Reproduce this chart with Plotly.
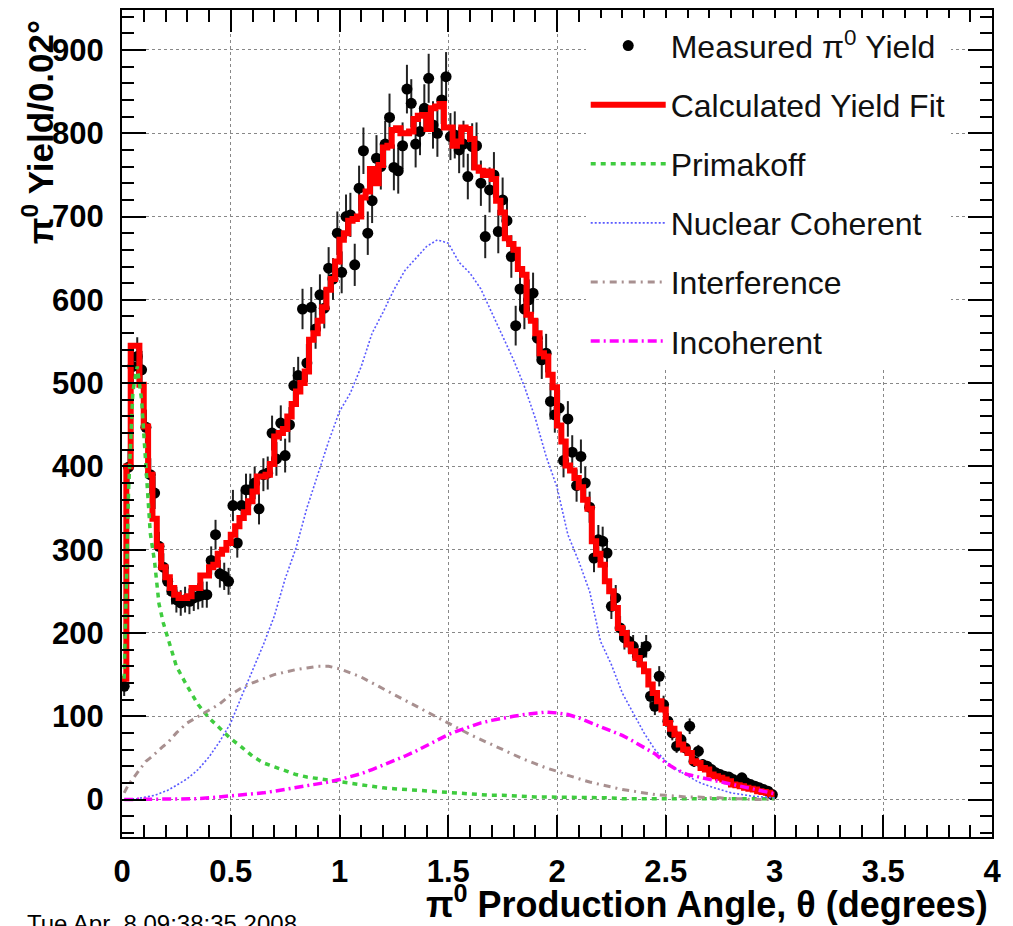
import numpy as np
import plotly.graph_objects as go

# ---- data -------------------------------------------------------------
BIN_WIDTH = 0.02
N_BINS = 150
theta_centers = np.round(0.01 + BIN_WIDTH * np.arange(N_BINS), 3)
theta_edges = np.round(BIN_WIDTH * np.arange(N_BINS + 1), 3)

measured_yield = [
    136, 399, 520, 532, 516, 447, 390, 368, 304, 279,
    262, 250, 240, 236, 240, 238, 242, 244, 246, 246,
    287, 318, 271, 268, 262, 353, 308, 353, 372, 372,
    380, 349, 390, 392, 440, 409, 452, 413, 450, 497,
    509, 589, 524, 591, 565, 606, 590, 638, 625, 680,
    633, 700, 702, 642, 734, 779, 680, 719, 770, 760,
    787, 819, 759, 755, 785, 853, 836, 787, 802, 830,
    866, 810, 800, 840, 868, 796, 798, 780, 787, 748,
    784, 785, 740, 676, 732, 750, 682, 720, 695, 652,
    569, 613, 589, 600, 608, 554, 528, 536, 478, 462,
    470, 407, 457, 417, 377, 412, 380, 351, 290, 312,
    310, 296, 232, 242, 206, 194, 190, 184, 172, 176,
    184, 124, 112, 148, 114, 94, 80, 64, 72, 62,
    88, 46, 58, 42, 40, 36, 32, 30, 28, 27,
    24, 22, 26, 20, 18, 16, 14, 12, 10, 6,
]

fit_yield = [
    145, 400, 545, 545, 498, 448, 390, 337, 304, 279,
    267, 254, 246, 242, 242, 244, 254, 254, 269, 269,
    279, 282, 295, 300, 308, 318, 328, 338, 345, 358,
    370, 388, 388, 390, 403, 436, 440, 445, 460, 475,
    490, 500, 514, 552, 560, 575, 591, 612, 625, 646,
    672, 680, 695, 697, 700, 723, 730, 757, 740, 762,
    783, 785, 804, 806, 800, 800, 802, 817, 821, 822,
    805, 830, 832, 835, 807, 807, 785, 790, 807, 805,
    793, 759, 755, 750, 754, 745, 719, 705, 674, 667,
    660, 637, 630, 582, 575, 560, 536, 532, 510, 495,
    449, 430, 401, 395, 386, 375, 360, 349, 310, 295,
    282, 262, 250, 230, 206, 200, 186, 178, 170, 162,
    154, 138, 128, 118, 108, 92, 85, 78, 66, 60,
    56, 46, 44, 38, 36, 30, 28, 26, 24, 22,
    18, 17, 16, 14, 13, 12, 10, 9, 8, 6,
]

theta_comp = [
    0.01, 0.03, 0.05, 0.07, 0.09, 0.11, 0.13, 0.15, 0.17, 0.19, 0.21,
    0.25, 0.30, 0.35, 0.40, 0.45, 0.50, 0.55, 0.60, 0.65, 0.70,
    0.75, 0.80, 0.85, 0.90, 0.95, 1.00, 1.05, 1.10, 1.15, 1.20,
    1.25, 1.30, 1.35, 1.40, 1.45, 1.50, 1.55, 1.60, 1.65, 1.70,
    1.75, 1.80, 1.85, 1.90, 1.95, 2.00, 2.05, 2.10, 2.15, 2.20,
    2.25, 2.30, 2.35, 2.40, 2.45, 2.50, 2.55, 2.60, 2.65, 2.70,
    2.75, 2.80, 2.85, 2.90, 2.95, 3.00,
]

primakoff = [
    145, 370, 490, 520, 480, 400, 320, 285, 235, 212, 195,
    160, 136, 114, 98, 86, 73, 63, 52, 44, 39,
    34, 30, 27, 25, 23, 22, 20, 18, 16, 14,
    13, 12, 11, 10, 9, 8, 7, 6, 6, 5,
    5, 4, 4, 3, 3, 3, 2, 2, 2, 2,
    2, 1, 1, 1, 1, 1, 1, 1, 1, 1,
    1, 1, 1, 1, 1, 1,
]

nuclear_coherent = [
    0, 0, 1, 1, 2, 3, 4, 5, 7, 9, 11,
    17, 25, 36, 51, 70, 92, 124, 155, 186, 220,
    265, 302, 350, 390, 430, 466, 488, 520, 560, 585,
    612, 635, 650, 664, 672, 668, 645, 632, 613, 585,
    558, 528, 496, 458, 412, 375, 318, 286, 250, 190,
    162, 128, 104, 80, 60, 46, 36, 28, 21, 16,
    12, 8, 6, 4, 3, 2,
]

interference = [
    8, 18, 25, 32, 40, 46, 50, 55, 60, 64, 68,
    80, 92, 100, 108, 115, 126, 134, 140, 145, 150,
    153, 156, 158, 160, 160, 157, 152, 147, 140, 133,
    126, 120, 112, 105, 98, 92, 85, 78, 72, 66,
    60, 54, 48, 43, 38, 34, 29, 25, 21, 18,
    15, 12, 10, 8, 6, 5, 4, 3, 3, 2,
    2, 1, 1, 0, 0, 0,
]

incoherent = [
    0, 0, 0, 0, 0, 0, 0, 0, 0, 0, 0,
    0, 1, 1, 2, 3, 4, 5, 6, 8, 10,
    12, 14, 16, 19, 21, 24, 27, 31, 36, 41,
    46, 52, 58, 65, 72, 78, 83, 88, 92, 95,
    98, 100, 102, 104, 105, 104, 102, 98, 93, 87,
    82, 77, 70, 62, 55, 44, 36, 30, 27, 24,
    21, 18, 16, 13, 10, 7,
]

# ---- figure -----------------------------------------------------------
FONT = "Liberation Sans"
measured = np.array(measured_yield, dtype=float)

fig = go.Figure()

fig.add_trace(go.Scatter(
    x=theta_centers, y=measured, mode="markers",
    name="Measured \u03c0<sup>0</sup> Yield",
    marker=dict(color="black", size=11),
    error_y=dict(type="data", array=np.sqrt(measured), color="#222222",
                 thickness=2, width=0),
    legendgroup="a",
))

fig.add_trace(go.Scatter(
    x=theta_edges, y=list(fit_yield) + [fit_yield[-1]], mode="lines",
    line=dict(color="#ff0000", width=6, shape="hv"),
    name="Calculated Yield Fit", legendgroup="b",
))

fig.add_trace(go.Scatter(
    x=theta_comp, y=primakoff, mode="lines",
    line=dict(color="#3fcc3f", width=3.5, dash="5px,5px"),
    name="Primakoff", legendgroup="c",
))

fig.add_trace(go.Scatter(
    x=theta_comp, y=nuclear_coherent, mode="lines",
    line=dict(color="#5a5aff", width=1.6, dash="2px,2px"),
    name="Nuclear Coherent", legendgroup="d",
))

fig.add_trace(go.Scatter(
    x=theta_comp, y=interference, mode="lines",
    line=dict(color="#a89090", width=3, dash="7px,5px,2px,5px"),
    name="Interference", legendgroup="e",
))

fig.add_trace(go.Scatter(
    x=theta_comp, y=incoherent, mode="lines",
    line=dict(color="#ff00ff", width=3.5, dash="9px,4px,2px,4px"),
    name="Incoherent", legendgroup="f",
))

axis_common = dict(
    showline=True, linecolor="black", linewidth=2, mirror="ticks",
    ticks="inside", tickcolor="black", tickwidth=1.5,
    showgrid=True, gridcolor="#888888", griddash="dot", gridwidth=1,
    zeroline=False,
    tickfont=dict(family=FONT, size=31, color="black", weight="bold"),
)

fig.update_xaxes(
    range=[0, 4], tick0=0, dtick=0.5, ticklen=22,
    minor=dict(dtick=0.1, ticklen=12, ticks="inside", tickcolor="black",
               tickwidth=1.5, showgrid=False),
    ticklabelstandoff=6,
    **axis_common,
)
fig.update_yaxes(
    range=[-45, 948], tick0=0, dtick=100, ticklen=24,
    minor=dict(dtick=20, ticklen=12, ticks="inside", tickcolor="black",
               tickwidth=1.5, showgrid=False),
    ticklabelstandoff=10,
    **axis_common,
)

fig.update_layout(
    width=1013, height=926,
    margin=dict(l=122, r=21, t=8, b=89),
    paper_bgcolor="white", plot_bgcolor="white",
    font=dict(family=FONT, color="black"),
    showlegend=True,
    legend=dict(
        x=0.533, y=0.990, xanchor="left", yanchor="top",
        bgcolor="white", borderwidth=0,
        font=dict(family=FONT, size=32, color="#111111"),
        itemwidth=75, tracegroupgap=14.5, traceorder="grouped",
    ),
    annotations=[
        dict(text="<b>\u03c0<sup>0</sup> Production Angle, \u03b8 (degrees)</b>",
             xref="paper", yref="paper", x=0.9977, y=-0.0784,
             xanchor="right", yanchor="middle", showarrow=False,
             font=dict(family=FONT, size=36, color="black")),
        dict(text="<b>\u03c0<sup>0</sup> Yield/0.02\u00b0</b>",
             xref="paper", yref="paper", x=-0.097, y=0.8516,
             xanchor="center", yanchor="middle", showarrow=False, textangle=-90,
             font=dict(family=FONT, size=35, color="black")),
        dict(text="Tue Apr  8 09:38:35 2008",
             xref="paper", yref="paper", x=-0.112, y=-0.0855,
             xanchor="left", yanchor="top", showarrow=False,
             font=dict(family=FONT, size=24, color="black")),
    ],
)

fig.write_html("out.html")
